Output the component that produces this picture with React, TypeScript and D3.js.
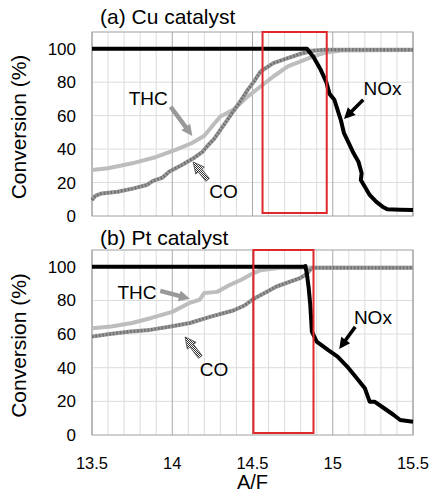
import React from "react";
import * as d3 from "d3";

// ---------- data (A/F, conversion %) ----------
const xTicks = [13.5, 14, 14.5, 15, 15.5];
const yTicks = [0, 20, 40, 60, 80, 100];
const panelTitles = ["(a) Cu catalyst", "(b) Pt catalyst"];

const cuNOx: [number, number][] = [
  [13.5, 100], [14.84, 100], [14.88, 95], [14.925, 87.4], [14.96, 80], [14.98, 73],
  [15.01, 69.5], [15.03, 63.5], [15.05, 57.5], [15.07, 49.5], [15.1, 43.5], [15.13, 37.5],
  [15.16, 32.5], [15.18, 25.5], [15.175, 21.5], [15.2, 17.5], [15.23, 12.6], [15.27, 8.6],
  [15.31, 5.6], [15.34, 4], [15.42, 3.8], [15.5, 3.6],
];
const cuTHC: [number, number][] = [
  [13.5, 27.5], [13.6, 28.5], [13.75, 31.5], [13.9, 35.3], [14.02, 39.5], [14.12, 43.5],
  [14.2, 48], [14.26, 55], [14.3, 59.5], [14.38, 63.5], [14.47, 71.4], [14.55, 77.4],
  [14.63, 83.4], [14.72, 89.4], [14.8, 92.4], [14.88, 95.4], [14.96, 97.8], [15.05, 99], [15.5, 99.2],
];
const cuCO: [number, number][] = [
  [13.5, 9.6], [13.52, 12], [13.56, 13.5], [13.66, 14.5], [13.76, 16.5], [13.84, 18.5],
  [13.88, 21], [13.94, 23], [13.98, 26.5], [14.06, 30.5], [14.14, 35], [14.19, 38.5],
  [14.22, 42], [14.26, 46], [14.3, 51.5], [14.34, 57], [14.38, 62.5], [14.42, 68],
  [14.47, 75.4], [14.51, 80.5], [14.55, 86.4], [14.63, 91.4], [14.72, 94.4], [14.8, 97],
  [14.88, 98.8], [14.95, 99.4], [15.5, 99.4],
];

const ptNOx: [number, number][] = [
  [13.5, 100], [14.82, 100], [14.83, 100.5], [14.84, 95], [14.85, 87.5], [14.86, 77.4],
  [14.87, 61.5], [14.9, 55.5], [14.97, 50.6], [15.03, 46.6], [15.09, 40.7], [15.15, 33.7],
  [15.2, 27.8], [15.23, 19.8], [15.26, 19.8], [15.32, 15.9], [15.38, 11.9], [15.42, 8.9], [15.5, 7.9],
];
const ptTHC: [number, number][] = [
  [13.5, 63.5], [13.62, 64.5], [13.75, 66.6], [13.87, 69.6], [14.0, 73.2], [14.11, 78.6],
  [14.17, 80.4], [14.2, 84.5], [14.28, 85.1], [14.36, 89.3], [14.43, 92.3], [14.49, 95.5],
  [14.55, 98], [14.67, 99.4], [15.5, 99.4],
];
const ptCO: [number, number][] = [
  [13.5, 58.5], [13.61, 60], [13.74, 61.5], [13.86, 62.5], [13.99, 64.5], [14.11, 66.6],
  [14.24, 70.4], [14.38, 74], [14.45, 77], [14.5, 80.5], [14.65, 88.3], [14.8, 93.4],
  [14.84, 96], [14.87, 99.4], [15.5, 99.4],
];

// red highlight windows [x0, x1, y0, y1]
const cuWindow = [14.5625, 14.9625, 1.8, 110];
const ptWindow = [14.506, 14.88, 1.2, 110];

// annotations: label, label position (data), arrow from -> to (data), style
type Ann = { text: string; lx: number; ly: number; x1: number; y1: number; x2: number; y2: number; kind: string };
const cuAnn: Ann[] = [
  { text: "THC", lx: 13.85, ly: 70.7, x1: 13.99, y1: 65.3, x2: 14.125, y2: 47.9, kind: "thc" },
  { text: "CO", lx: 14.32, ly: 15, x1: 14.22, y1: 21.6, x2: 14.13, y2: 32.3, kind: "co" },
  { text: "NOx", lx: 15.31, ly: 76.6, x1: 15.19, y1: 69.5, x2: 15.07, y2: 58, kind: "nox" },
];
const ptAnn: Ann[] = [
  { text: "THC", lx: 13.78, ly: 85.1, x1: 13.925, y1: 85.7, x2: 14.11, y2: 81, kind: "thc" },
  { text: "CO", lx: 14.26, ly: 39.3, x1: 14.175, y1: 46.4, x2: 14.08, y2: 58.3, kind: "co" },
  { text: "NOx", lx: 15.25, ly: 70.2, x1: 15.14, y1: 64.3, x2: 15.04, y2: 51.2, kind: "nox" },
];

// ---------- layout ----------
const W = 432, H = 495;
const left = 92, right = 413;
const FONT = "'Liberation Sans', Arial, sans-serif";

const x = d3.scaleLinear().domain([13.5, 15.5]).range([left, right]);
const minorX = d3.range(13.5, 15.5001, 0.1).map((v) => +v.toFixed(2));

function arrowPts(x1: number, y1: number, x2: number, y2: number, sw: number, hw: number, hl: number) {
  const dx = x2 - x1, dy = y2 - y1;
  const L = Math.hypot(dx, dy);
  const ux = dx / L, uy = dy / L;
  const nx = -uy, ny = ux;
  const bx = x2 - ux * hl, by = y2 - uy * hl;
  const p = [
    [x1 + nx * sw / 2, y1 + ny * sw / 2],
    [bx + nx * sw / 2, by + ny * sw / 2],
    [bx + nx * hw / 2, by + ny * hw / 2],
    [x2, y2],
    [bx - nx * hw / 2, by - ny * hw / 2],
    [bx - nx * sw / 2, by - ny * sw / 2],
    [x1 - nx * sw / 2, y1 - ny * sw / 2],
  ];
  return p.map((q) => q.join(",")).join(" ");
}

function Panel({ top, bottom, title, titleY, nox, thc, co, win, ann }: any) {
  const y = d3.scaleLinear().domain([0, 110]).range([bottom, top]);
  const line = d3.line<[number, number]>().x((d) => x(d[0])).y((d) => y(d[1]));
  return (
    <g>
      {/* grid */}
      {yTicks.slice(1).map((t) => (
        <line key={"h" + t} x1={left} x2={right} y1={y(t)} y2={y(t)} stroke="#dcdcdc" strokeWidth={1} />
      ))}
      {minorX.map((t) => (
        <line key={"v" + t} x1={x(t)} x2={x(t)} y1={top} y2={bottom}
          stroke={Math.abs(t * 2 - Math.round(t * 2)) < 1e-6 ? "#a8a8a8" : "#dcdcdc"} strokeWidth={1} />
      ))}
      <rect x={left} y={top} width={right - left} height={bottom - top} fill="none" stroke="#a0a0a0" strokeWidth={1} />
      {/* y ticks */}
      {yTicks.map((t) => (
        <text key={"yt" + t} x={76} y={y(t) + 6} textAnchor="end" fontSize={17} fontFamily={FONT} fill="#000">{t}</text>
      ))}
      <text transform={`translate(26,${(top + bottom) / 2 + 3}) rotate(-90)`} textAnchor="middle"
        fontSize={21} fontFamily={FONT} fill="#000">Conversion (%)</text>
      <text x={100} y={titleY} fontSize={21} fontFamily={FONT} fill="#000">{title}</text>
      {/* series */}
      <path d={line(thc) || ""} fill="none" stroke="#bdbdbd" strokeWidth={4} strokeLinejoin="round" />
      <path d={line(co) || ""} fill="none" stroke="#9a9a9a" strokeWidth={4} strokeLinejoin="round" />
      <path d={line(co) || ""} fill="none" stroke="#6e6e6e" strokeWidth={3} strokeDasharray="1.5 2" />
      <path d={line(nox) || ""} fill="none" stroke="#000" strokeWidth={4} strokeLinejoin="round" />
      {/* window */}
      <rect x={x(win[0])} y={y(win[3])} width={x(win[1]) - x(win[0])} height={y(win[2]) - y(win[3])}
        fill="none" stroke="#e0282a" strokeWidth={2} />
      {/* annotations */}
      {ann.map((a: Ann) => (
        <g key={a.text}>
          <text x={x(a.lx)} y={y(a.ly) + 7} textAnchor="middle" fontSize={19} fontFamily={FONT} fill="#000">{a.text}</text>
          <polygon points={arrowPts(x(a.x1), y(a.y1), x(a.x2), y(a.y2), a.kind === "nox" ? 3.5 : 4.5, 11, 11)}
            fill={a.kind === "thc" ? "#999" : a.kind === "nox" ? "#000" : "url(#checker)"}
            stroke={a.kind === "co" ? "#444" : "none"} strokeWidth={0.8} />
        </g>
      ))}
    </g>
  );
}

export default function App() {
  return (
    <svg width={W} height={H} style={{ position: "absolute", left: 0, top: 0, background: "#fff" }}>
      <defs>
        <pattern id="checker" width={2} height={2} patternUnits="userSpaceOnUse">
          <rect width={2} height={2} fill="#fff" />
          <rect width={1} height={1} fill="#333" />
          <rect x={1} y={1} width={1} height={1} fill="#333" />
        </pattern>
      </defs>
      <rect width={W} height={H} fill="#fff" />
      <Panel top={32} bottom={216} title={panelTitles[0]} titleY={24} nox={cuNOx} thc={cuTHC} co={cuCO} win={cuWindow} ann={cuAnn} />
      <Panel top={250} bottom={435} title={panelTitles[1]} titleY={245} nox={ptNOx} thc={ptTHC} co={ptCO} win={ptWindow} ann={ptAnn} />
      {xTicks.map((t) => (
        <text key={"xt" + t} x={x(t)} y={469} textAnchor="middle" fontSize={16.5} fontFamily={FONT} fill="#000">{t}</text>
      ))}
      <text x={(left + right) / 2} y={489} textAnchor="middle" fontSize={20} fontFamily={FONT} fill="#000">A/F</text>
    </svg>
  );
}
